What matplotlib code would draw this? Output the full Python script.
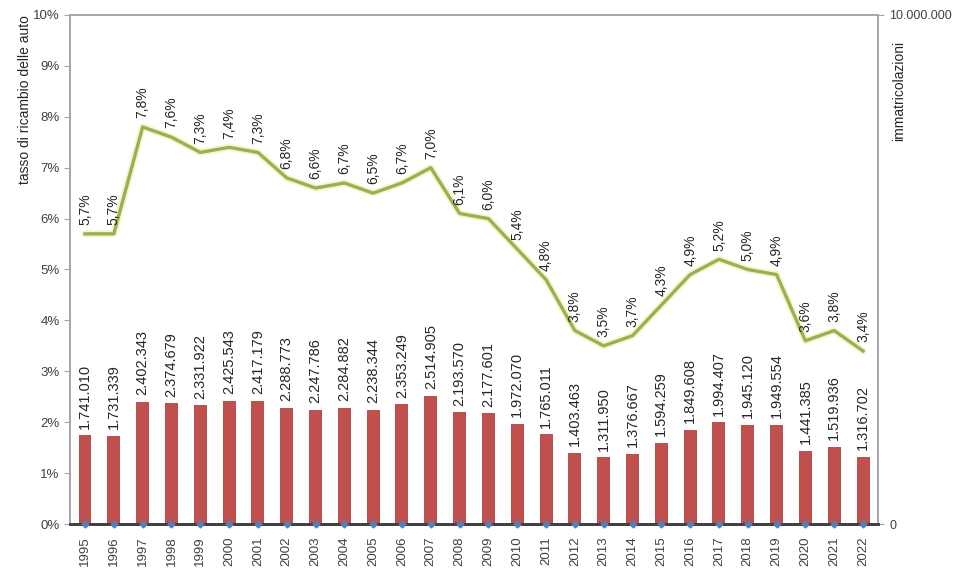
import matplotlib
matplotlib.use("Agg")
import matplotlib.pyplot as plt
from matplotlib.ticker import FixedLocator

plt.rcParams["font.family"] = ["Liberation Sans", "DejaVu Sans"]

years = list(range(1995, 2023))
immatricolazioni = [1741010, 1731339, 2402343, 2374679, 2331922, 2425543, 2417179,
                    2288773, 2247786, 2284882, 2238344, 2353249, 2514905, 2193570,
                    2177601, 1972070, 1765011, 1403463, 1311950, 1376667, 1594259,
                    1849608, 1994407, 1945120, 1949554, 1441385, 1519936, 1316702]
tasso = [5.7, 5.7, 7.8, 7.6, 7.3, 7.4, 7.3, 6.8, 6.6, 6.7, 6.5, 6.7, 7.0, 6.1,
         6.0, 5.4, 4.8, 3.8, 3.5, 3.7, 4.3, 4.9, 5.2, 5.0, 4.9, 3.6, 3.8, 3.4]
base = [0] * len(years)

RED = "#C0504D"
GREEN = "#9DAF52"
GLOW = "#F3F8CC"
BLUE = "#4F81BD"
GRID = "#A6A6A6"


def fmt_it(n):
    return f"{n:,}".replace(",", ".")


fig = plt.figure(figsize=(9.58, 5.72), dpi=100)
ax = fig.add_axes([0.0731, 0.0839, 0.8434, 0.8899])
ax2 = ax.twinx()
x = list(range(len(years)))

# bars on right axis
ax2.bar(x, immatricolazioni, width=0.45, color=RED, zorder=2)
ax2.set_ylim(0, 10_000_000)
ax2.yaxis.set_major_locator(FixedLocator([0, 10_000_000]))
ax2.set_yticklabels(["0", "10.000.000"], fontsize=9, color="#404040")
ax2.tick_params(axis="y", length=4, color=GRID, pad=4)
for xi, v in zip(x, immatricolazioni):
    ax2.text(xi, v + 130_000, fmt_it(v), rotation=90, ha="center", va="bottom",
             fontsize=10.5, color="#262626", zorder=4)
ax2.text(1.017, 0.95, "immatricolazioni", transform=ax2.transAxes, rotation=90,
         ha="left", va="top", fontsize=10, color="#262626")

# line on left axis, drawn above the bars
ax.set_zorder(ax2.get_zorder() + 1)
ax.patch.set_visible(False)
ax.plot(x, tasso, color=GLOW, lw=5, solid_capstyle="round", zorder=2)
ax.plot(x, tasso, color=GREEN, lw=2.4, zorder=3)
ax.plot(x, base, ls="none", marker="D", ms=3.5, color=BLUE, zorder=5, clip_on=False)
for xi, v in zip(x, tasso):
    ax.text(xi, v + 0.17, f"{v:.1f}%".replace(".", ","), rotation=90, ha="center",
            va="bottom", fontsize=10, color="#262626", zorder=4)

ax.set_xlim(-0.52, len(years) - 0.48)
ax.set_ylim(0, 10)
ax.yaxis.set_major_locator(FixedLocator(range(0, 11)))
ax.set_yticklabels([f"{i}%" for i in range(0, 11)], fontsize=9.5, color="#404040")
ax.tick_params(axis="y", length=4, color=GRID)
ax.set_xticks(x)
ax.set_xticklabels([str(y) for y in years], rotation=90, fontsize=9.5, color="#404040")
ax.tick_params(axis="x", length=0, pad=9)
ax.set_ylabel("tasso di ricambio delle auto", fontsize=10, color="#262626")
ax.yaxis.set_label_coords(-0.065, 1.0)
ax.yaxis.label.set_va("top")
ax.yaxis.label.set_ha("right")

for a in (ax, ax2):
    for s in ("left", "right", "top"):
        a.spines[s].set_color(GRID)
        a.spines[s].set_linewidth(1.2)
    a.spines["bottom"].set_color("#404040")
    a.spines["bottom"].set_linewidth(2)

fig.savefig("out.png", dpi=100, facecolor="white")
